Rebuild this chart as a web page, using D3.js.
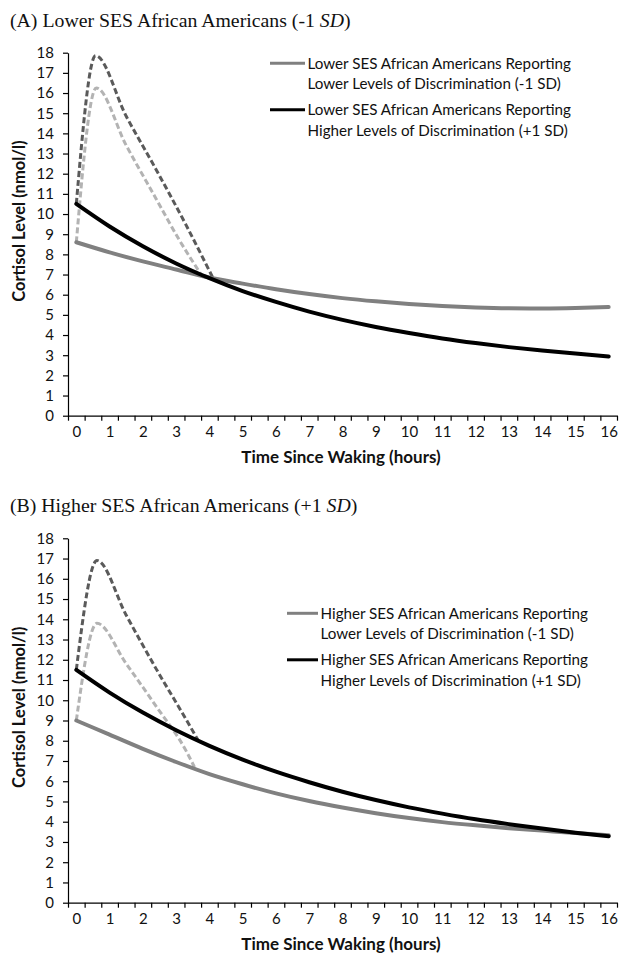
<!DOCTYPE html>
<html>
<head>
<meta charset="utf-8">
<script src="https://cdn.jsdelivr.net/npm/d3@7"></script>
<style>
  body { margin: 0; background: #fff; }
  svg { display: block; }
</style>
</head>
<body>
<svg id="chart" width="621" height="953"></svg>
<script>
// hours since waking, one point per hour
const hours = [0, 1, 2, 3, 4, 5, 6, 7, 8, 9, 10, 11, 12, 13, 14, 15, 16];

// (A) lower SES
const lowSesLowDisc = [8.6, 8.1, 7.65, 7.25, 6.85, 6.55, 6.27, 6.03, 5.83, 5.67, 5.54, 5.44, 5.37, 5.33, 5.32, 5.34, 5.39];
const lowSesHighDisc = [10.5, 9.38, 8.4, 7.55, 6.82, 6.18, 5.64, 5.16, 4.75, 4.4, 4.1, 3.83, 3.6, 3.4, 3.23, 3.08, 2.93];
const lowSesLowCarHours = [0, 0.6, 1.5, 2.4, 3.1, 3.75];
const lowSesLowCar = [8.6, 16.25, 13.4, 10.75, 8.7, 7.0];
const lowSesHighCarHours = [0, 0.58, 1.5, 2.4, 3.3, 4.1];
const lowSesHighCar = [10.5, 17.85, 14.85, 12.2, 9.45, 6.85];

// (B) higher SES
const highSesLowDisc = [9.0, 8.3, 7.6, 6.95, 6.35, 5.85, 5.4, 5.02, 4.7, 4.42, 4.18, 3.98, 3.82, 3.68, 3.56, 3.44, 3.33];
const highSesHighDisc = [11.5, 10.38, 9.39, 8.52, 7.75, 7.07, 6.47, 5.95, 5.48, 5.07, 4.71, 4.4, 4.12, 3.88, 3.66, 3.46, 3.28];
const highSesLowCarHours = [0, 0.62, 1.5, 2.4, 3.3, 3.55];
const highSesLowCar = [9.0, 13.8, 11.8, 9.7, 7.5, 6.7];
const highSesHighCarHours = [0, 0.62, 1.5, 2.4, 3.3, 3.65];
const highSesHighCar = [11.5, 16.9, 14.2, 11.55, 9.05, 8.05];

const yTicks = [0, 1, 2, 3, 4, 5, 6, 7, 8, 9, 10, 11, 12, 13, 14, 15, 16, 17, 18];

const legendA = [
  ["Lower SES African Americans Reporting", "Lower Levels of Discrimination (-1 SD)"],
  ["Lower SES African Americans Reporting", "Higher Levels of Discrimination (+1 SD)"]
];
const legendB = [
  ["Higher SES African Americans Reporting", "Lower Levels of Discrimination (-1 SD)"],
  ["Higher SES African Americans Reporting", "Higher Levels of Discrimination (+1 SD)"]
];

const svg = d3.select("#chart");
const sans = "Lato, 'Open Sans', sans-serif";

const panels = [
  {
    title: "(A) Lower SES African Americans (-1 ", titleY: 27,
    top: 52.7, bottom: 415.7,
    low: lowSesLowDisc, high: lowSesHighDisc,
    lowCar: [lowSesLowCarHours, lowSesLowCar], highCar: [lowSesHighCarHours, lowSesHighCar],
    legend: legendA, legX: 270, legLen: 35, legY: 63.3
  },
  {
    title: "(B) Higher SES African Americans (+1 ", titleY: 512,
    top: 538.3, bottom: 902.7,
    low: highSesLowDisc, high: highSesHighDisc,
    lowCar: [highSesLowCarHours, highSesLowCar], highCar: [highSesHighCarHours, highSesHighCar],
    legend: legendB, legX: 287, legLen: 31, legY: 613.3
  }
];

const x = d3.scaleLinear().domain([-0.25, 16.25]).range([68, 617]);
const boundaries = d3.range(0, 34).map(i => -0.25 + i * 0.5);

panels.forEach(p => {
  const y = d3.scaleLinear().domain([0, 18]).range([p.bottom, p.top]);
  const g = svg.append("g");

  // panel title, Times style with italic SD
  const t = g.append("text")
    .attr("x", 10).attr("y", p.titleY)
    .attr("font-family", "'Liberation Serif', 'DejaVu Serif', serif")
    .attr("font-size", 19.8).attr("fill", "#111")
    .text(p.title);
  t.append("tspan").attr("font-style", "italic").text("SD");
  t.append("tspan").text(")");

  // y axis
  const ya = g.append("g")
    .attr("transform", `translate(${x.range()[0]},0)`)
    .call(d3.axisLeft(y).tickValues(yTicks).tickSize(5).tickSizeOuter(0).tickPadding(9));
  ya.selectAll("text").attr("font-family", sans).attr("font-size", 15).attr("fill", "#111");
  ya.selectAll("line, path").attr("stroke", "#000").attr("stroke-width", 1.2);

  // x axis ticks at category boundaries
  const xa = g.append("g")
    .attr("transform", `translate(0,${p.bottom})`)
    .call(d3.axisBottom(x).tickValues(boundaries).tickFormat("").tickSize(5).tickSizeOuter(0));
  xa.selectAll("line, path").attr("stroke", "#000").attr("stroke-width", 1.2);

  const xl = g.append("g")
    .attr("transform", `translate(0,${p.bottom})`)
    .call(d3.axisBottom(x).tickValues(hours).tickSize(0).tickPadding(11));
  xl.select(".domain").remove();
  xl.selectAll("text").attr("font-family", sans).attr("font-size", 15).attr("fill", "#111");

  // axis titles
  g.append("text")
    .attr("x", 341).attr("y", p.bottom + 47)
    .attr("text-anchor", "middle")
    .attr("font-family", sans).attr("font-size", 17).attr("font-weight", "bold").attr("fill", "#111")
    .text("Time Since Waking (hours)");
  g.append("text")
    .attr("transform", `translate(25,${y(9.65)}) rotate(-90)`)
    .attr("text-anchor", "middle")
    .attr("font-family", sans).attr("font-size", 16.5).attr("font-weight", "bold").attr("fill", "#111")
    .text("Cortisol Level (nmol/l)");

  const line = d3.line().x(d => x(d[0])).y(d => y(d[1])).curve(d3.curveMonotoneX);

  // dashed awakening responses
  g.append("path")
    .datum(p.lowCar[0].map((h, i) => [h, p.lowCar[1][i]]))
    .attr("fill", "none").attr("stroke", "#b3b3b3").attr("stroke-width", 3)
    .attr("stroke-dasharray", "6,3").attr("d", line);
  g.append("path")
    .datum(p.highCar[0].map((h, i) => [h, p.highCar[1][i]]))
    .attr("fill", "none").attr("stroke", "#5a5a5a").attr("stroke-width", 3)
    .attr("stroke-dasharray", "6,3").attr("d", line);

  // solid diurnal slopes
  g.append("path")
    .datum(hours.map((h, i) => [h, p.low[i]]))
    .attr("fill", "none").attr("stroke", "#808080").attr("stroke-width", 4)
    .attr("stroke-linecap", "round").attr("d", line);
  g.append("path")
    .datum(hours.map((h, i) => [h, p.high[i]]))
    .attr("fill", "none").attr("stroke", "#000").attr("stroke-width", 4)
    .attr("stroke-linecap", "round").attr("d", line);

  // legend
  const colors = ["#808080", "#000"];
  p.legend.forEach((lines, i) => {
    const ly = p.legY + i * 46.5;
    g.append("line")
      .attr("x1", p.legX).attr("x2", p.legX + p.legLen)
      .attr("y1", ly).attr("y2", ly)
      .attr("stroke", colors[i]).attr("stroke-width", 3);
    lines.forEach((s, j) => {
      g.append("text")
        .attr("x", p.legX + p.legLen + 2.5).attr("y", ly + j * 20.5 + 5.5)
        .attr("font-family", sans).attr("font-size", 15.2).attr("fill", "#111")
        .text(s);
    });
  });
});
</script>
</body>
</html>
